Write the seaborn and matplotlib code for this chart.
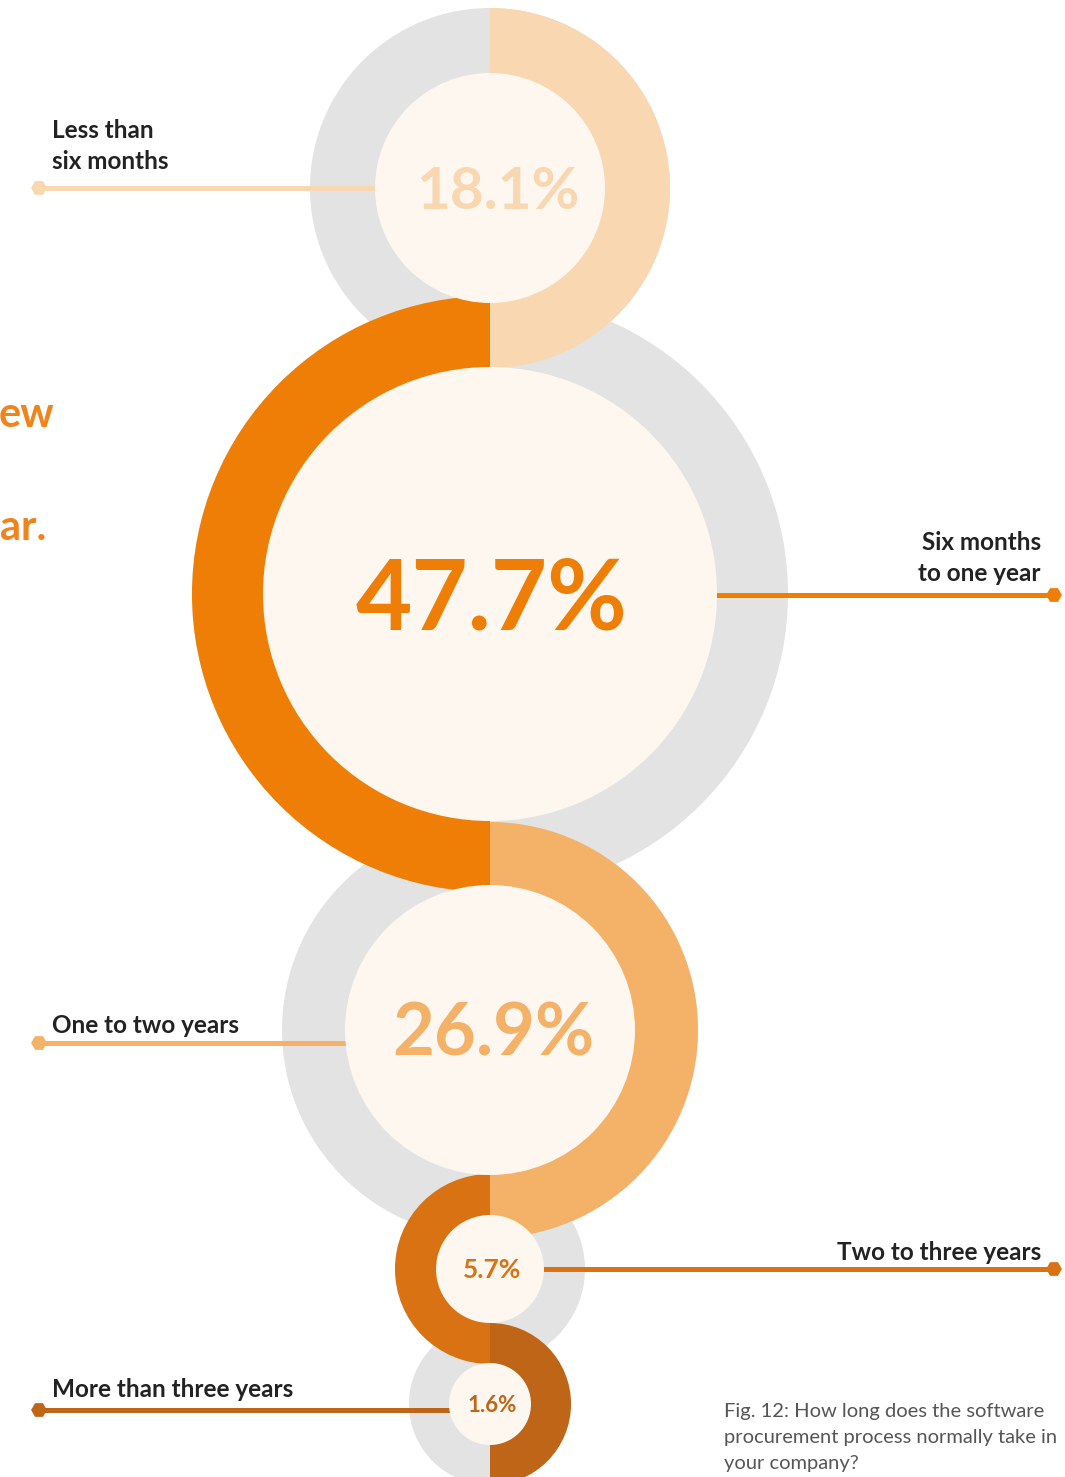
import matplotlib
matplotlib.use("Agg")
import matplotlib.pyplot as plt
from matplotlib.patches import Circle, Wedge
import pandas as pd
import seaborn as sns

# ---- data -------------------------------------------------------------
categories = [
    "Less than\nsix months",
    "Six months\nto one year",
    "One to two years",
    "Two to three years",
    "More than three years",
]
shares = [18.1, 47.7, 26.9, 5.7, 1.6]
caption = ("Fig. 12: How long does the software\n"
           "procurement process normally take in\n"
           "your company?")

# ---- layout / style ---------------------------------------------------
W, H = 1065, 1477
CX = 490
ring_colors = ["#F9D7B1", "#EF7E07", "#F4B168", "#D87213", "#BF6518"]
centers_y = [188, 594, 1030, 1269, 1404]
outer_r = [180, 298, 208, 95, 81]
inner_r = [115, 227, 145, 54, 41]
ring_side = ["right", "left", "right", "left", "right"]
value_x = [498, 492, 493, 492, 492]
value_size = [42, 70, 52, 19, 16]
GREY = "#E3E3E3"
CREAM = "#FDF7F0"
TEXT = "#222222"

# leader lines: y position, outer end, label anchor
leader_y = [188, 595, 1043, 1269, 1410]
leader_end = [39, 1054, 39, 1054, 39]
label_x = [52, 1041, 52, 1041, 52]
label_base = [138, 550, 1033, 1260, 1397]

sns.set_theme(style="white")
plt.rcParams["font.family"] = ["Lato", "DejaVu Sans"]

fig = plt.figure(figsize=(W / 100, H / 100), dpi=100)
ax = fig.add_axes([0, 0, 1, 1])
ax.set_xlim(0, W)
ax.set_ylim(H, 0)
ax.axis("off")

# grey discs
for cy, ro in zip(centers_y, outer_r):
    ax.add_patch(Circle((CX, cy), ro, facecolor=GREY, edgecolor="none", zorder=1))

# coloured half rings
for cy, ro, ri, side, col in zip(centers_y, outer_r, inner_r, ring_side, ring_colors):
    t1, t2 = (-90, 90) if side == "right" else (90, 270)
    ax.add_patch(Wedge((CX, cy), ro, t1, t2, width=ro - ri + 4,
                       facecolor=col, edgecolor="none", zorder=2))

# leader lines
for y, xe, col in zip(leader_y, leader_end, ring_colors):
    ax.hlines(y, min(xe, CX), max(xe, CX), color=col, lw=3.6, zorder=1.5)

ends = pd.DataFrame({"x": leader_end, "y": leader_y, "cat": categories})
sns.scatterplot(data=ends, x="x", y="y", hue="cat", palette=ring_colors,
                marker="H", s=130, linewidth=0, legend=False, ax=ax, zorder=3)

# cream centres
for cy, ri in zip(centers_y, inner_r):
    ax.add_patch(Circle((CX, cy), ri, facecolor=CREAM, edgecolor="none", zorder=4))

# percentage values
for x, cy, v, col, fs in zip(value_x, centers_y, shares, ring_colors, value_size):
    px = fs * 100 / 72
    ax.text(x, cy + 0.36 * px, f"{v:.1f}%", ha="center", va="baseline",
            fontsize=fs, fontweight="bold", color=col, zorder=5)

# category labels
for cat, x, yb in zip(categories, label_x, label_base):
    ha = "left" if x < CX else "right"
    for i, line in enumerate(cat.split("\n")):
        ax.text(x, yb + 31 * i, line, ha=ha, va="baseline", fontsize=17.5,
                fontweight="bold", color=TEXT, zorder=5)

# headline fragments at the left edge
ax.text(54, 427, "ew", ha="right", va="baseline", fontsize=30,
        fontweight="bold", color="#F0841A")
ax.text(46, 540, "ar.", ha="right", va="baseline", fontsize=30,
        fontweight="bold", color="#F0841A")

# caption
for i, line in enumerate(caption.split("\n")):
    ax.text(724, 1417 + 26 * i, line, ha="left", va="baseline", fontsize=14.5,
            color="#555555")

fig.savefig("out.png", dpi=100)
